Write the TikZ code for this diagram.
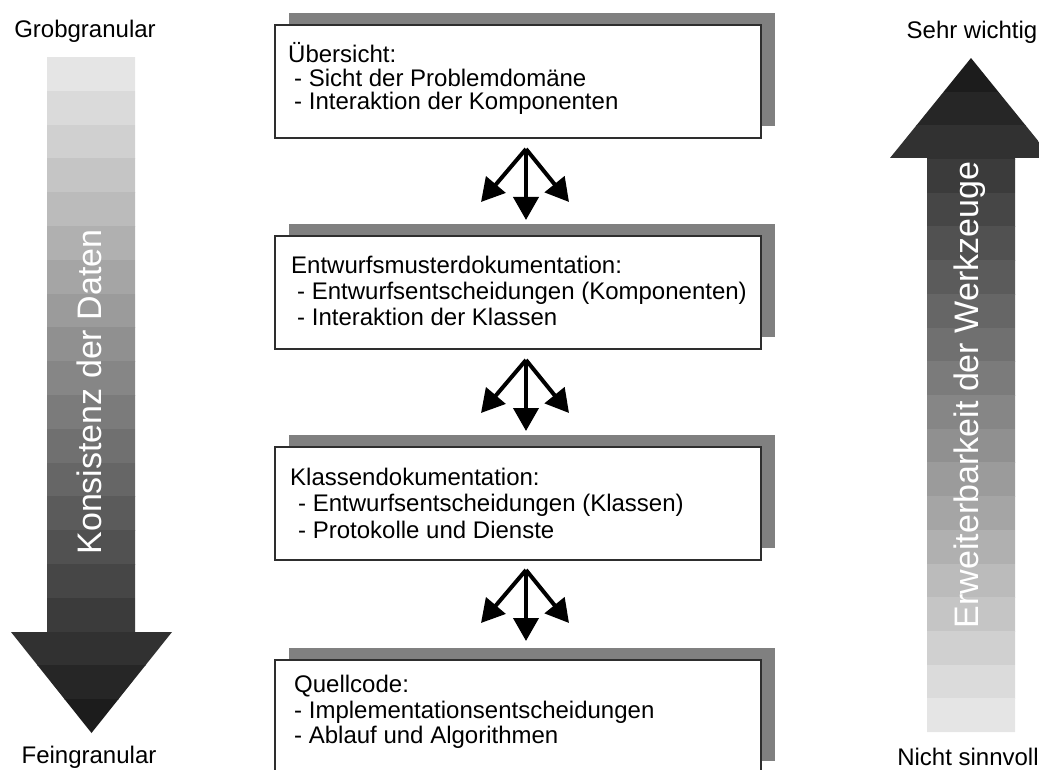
\documentclass[tikz,border=0pt]{standalone}
\usepackage{fontspec}
\setmainfont{Liberation Sans}
\usetikzlibrary{arrows.meta,shadows}

\definecolor{shadowgray}{HTML}{808080}
\definecolor{edgegray}{HTML}{2E2E2E}

\begin{document}
\begin{tikzpicture}[x=1pt,y=-1pt,
  box/.style={draw=edgegray, line width=1.2pt, fill=white,
    minimum width=486pt, minimum height=113pt, inner sep=0pt,
    drop shadow={shadow xshift=14pt, shadow yshift=12pt, fill=shadowgray, opacity=1}},
  boxline/.style={anchor=base west, inner sep=0pt, font=\fontsize{24}{28}\selectfont},
  endlabel/.style={anchor=base, inner sep=0pt, font=\fontsize{24}{28}\selectfont},
  axistext/.style={anchor=base, inner sep=0pt, text=white, rotate=90,
    font=\fontsize{34}{40}\selectfont},
  fork/.style={line width=4pt, -{Triangle[length=23pt,width=25pt]}},
]
\useasboundingbox (0,0) rectangle (1039,770);
\clip (0,0) rectangle (1039,770);

% left scale: light at the top, dark at the tip
\begin{scope}
  \clip (47,57) -- (135,57) -- (135,632) -- (172,632) -- (91.5,733)
        -- (11,632) -- (47,632) -- cycle;
  \foreach \i in {0,...,19}{
    \pgfmathsetmacro{\lv}{89.8-4.16*\i}
    \fill[white!\lv!black] (0,{57+33.8*\i}) rectangle (200,{57+33.8*(\i+1)+0.6});
  }
\end{scope}
\node[axistext] (konsistenz) at (101,392) {Konsistenz der Daten};

% right scale: dark at the tip, light at the bottom
\begin{scope}
  \clip (927,732) -- (1015,732) -- (1015,158) -- (1052,158) -- (971,58)
        -- (890,158) -- (927,158) -- cycle;
  \foreach \i in {0,...,19}{
    \pgfmathsetmacro{\lv}{10.8+4.16*\i}
    \fill[white!\lv!black] (860,{58+33.7*\i}) rectangle (1060,{58+33.7*(\i+1)+0.6});
  }
\end{scope}
\node[axistext] (werkzeuge) at (978,395) {Erweiterbarkeit der Werkzeuge};

% end labels
\node[endlabel] (grob)  at (85,38)   {Grobgranular};
\node[endlabel] (fein)  at (89,763)  {Feingranular};
\node[endlabel] (sehr)  at (972,39)  {Sehr wichtig};
\node[endlabel] (nicht) at (968,765) {Nicht sinnvoll};

% documentation levels
\node[box] (b1) at (518,81.5)  {};
\node[box] (b2) at (518,292.5) {};
\node[box] (b3) at (518,503.5) {};
\node[box] (b4) at (518,716.5) {};

\node[boxline] (b1a) at (288,63)    {Übersicht:};
\node[boxline] (b1b) at (294,86.5)  {- Sicht der Problemdomäne};
\node[boxline] (b1c) at (294,110)   {- Interaktion der Komponenten};

\node[boxline] (b2a) at (291,273)   {Entwurfsmusterdokumentation:};
\node[boxline] (b2b) at (297,299)   {- Entwurfsentscheidungen (Komponenten)};
\node[boxline] (b2c) at (297,325.5) {- Interaktion der Klassen};

\node[boxline] (b3a) at (290,485)   {Klassendokumentation:};
\node[boxline] (b3b) at (298,511.5) {- Entwurfsentscheidungen (Klassen)};
\node[boxline] (b3c) at (298,538)   {- Protokolle und Dienste};

\node[boxline] (b4a) at (294,692)   {Quellcode:};
\node[boxline] (b4b) at (294,718)   {- Implementationsentscheidungen};
\node[boxline] (b4c) at (294,743)   {- Ablauf und Algorithmen};

% forks between the levels
\foreach \k/\ay in {1/149, 2/360, 3/570}{
  \coordinate (apex\k)  at (526,\ay);
  \coordinate (left\k)  at (481,\ay+53);
  \coordinate (right\k) at (569,\ay+53);
  \coordinate (down\k)  at (526,\ay+71);
  \draw[fork] (apex\k) -- (left\k);
  \draw[fork] (apex\k) -- (right\k);
  \draw[fork] (apex\k) -- (down\k);
}
\end{tikzpicture}
\end{document}
